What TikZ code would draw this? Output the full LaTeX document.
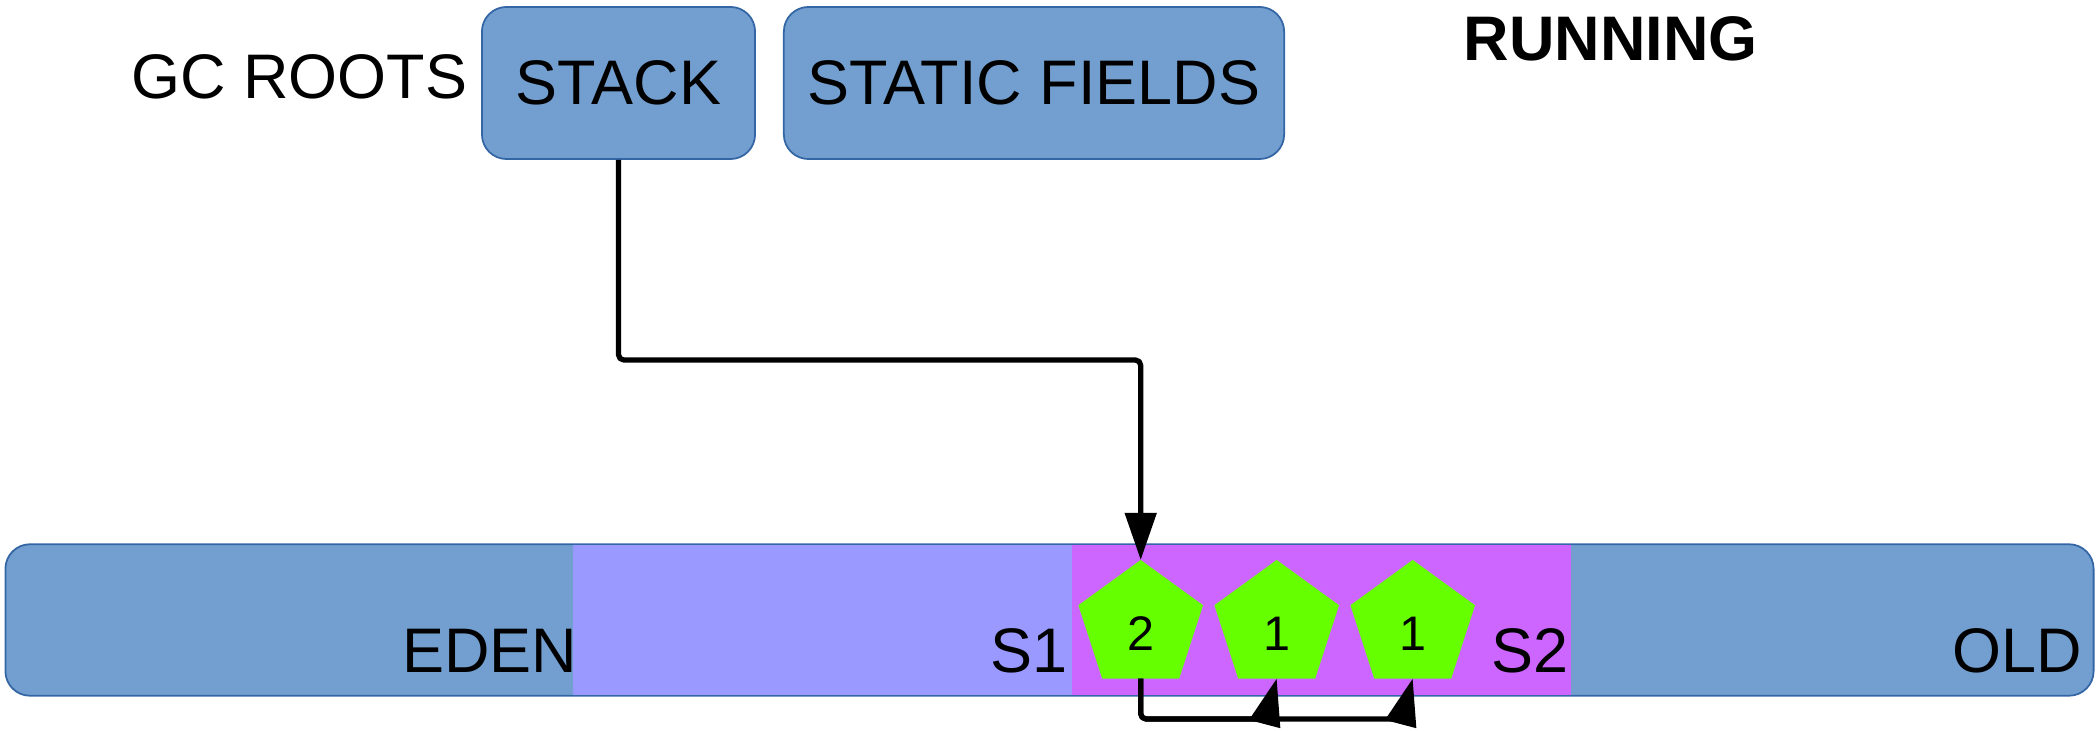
\documentclass[tikz,border=0pt]{standalone}
\usepackage{fontspec}
\setmainfont{Liberation Sans}
\usetikzlibrary{shapes.geometric,arrows.meta,calc}
\definecolor{boxblue}{HTML}{729FCF}
\definecolor{boxedge}{HTML}{3465A4}
\definecolor{lav}{HTML}{9999FF}
\definecolor{purp}{HTML}{CC66FF}
\definecolor{pgreen}{HTML}{66FF00}
\begin{document}
\begin{tikzpicture}[x=0.01cm,y=-0.01cm,
  lbl/.style={inner sep=0pt, font=\fontsize{17.9pt}{21pt}\selectfont},
  rootbox/.style={draw=boxedge, line width=0.5pt, fill=boxblue, rounded corners=7pt,
    minimum height=1.52cm, inner sep=0pt, font=\fontsize{17.9pt}{21pt}\selectfont},
  genbox/.style={fill=#1, draw=none, minimum height=1.495cm, minimum width=4.99cm,
    inner sep=0pt, outer sep=0pt},
  pent/.style={regular polygon, regular polygon sides=5, minimum size=1.31cm,
    inner sep=0pt, outer sep=0pt, fill=pgreen, draw=none},
  num/.style={inner sep=0pt, anchor=base, font=\fontsize{13.8pt}{16pt}\selectfont},
  conn/.style={line width=1.5pt, line join=round, rounded corners=1.5pt,
    -{Triangle[length=13.4pt,width=8.8pt]}}
]
\useasboundingbox (0,0) rectangle (2099,731);

% top row
\node[lbl, anchor=base east] (gcroots) at (468,99) {GC ROOTS};
\node[rootbox, minimum width=2.73cm] (stack) at (618.5,83) {STACK};
\node[rootbox, minimum width=5.00cm] (static) at (1034,83) {STATIC FIELDS};
\node[lbl, anchor=base west, font=\fontsize{17.9pt}{21pt}\selectfont\bfseries] (running) at (1463,61) {RUNNING};

% heap strip
\node[draw=boxedge, line width=0.5pt, fill=boxblue, rounded corners=7pt,
  minimum width=20.87cm, minimum height=1.514cm, inner sep=0pt] (heap) at (1049.5,620) {};
\node[genbox=lav] (s1) at (822.5,620) {};
\node[genbox=purp] (s2) at (1321.5,620) {};

\node[lbl, anchor=base east] (eden) at (578,673) {EDEN};
\node[lbl, anchor=base east] (s1lbl) at (1068,673) {S1};
\node[lbl, anchor=base east] (s2lbl) at (1569,673) {S2};
\node[lbl, anchor=base east] (old) at (2083,673) {OLD};

% objects
\node[pent] (p1) at (1140.7,625.5) {};
\node[pent] (p2) at (1276.7,625.5) {};
\node[pent] (p3) at (1412.7,625.5) {};
\node[num] (n1) at (1140.7,651) {2};
\node[num] (n2) at (1276.7,651) {1};
\node[num] (n3) at (1412.7,651) {1};

% connectors
\coordinate (bend) at (1140.7,360);
\draw[conn] (stack.south) |- (bend) -- (p1.north);

\coordinate (b1) at (1140.7,719);
\coordinate (k2) at (1266,719);
\coordinate (k3) at (1402,719);
\draw[conn] (p1.south) -- (b1) -- (k2) -- (p2.south);
\draw[conn] (p1.south) -- (b1) -- (k3) -- (p3.south);
\end{tikzpicture}
\end{document}
